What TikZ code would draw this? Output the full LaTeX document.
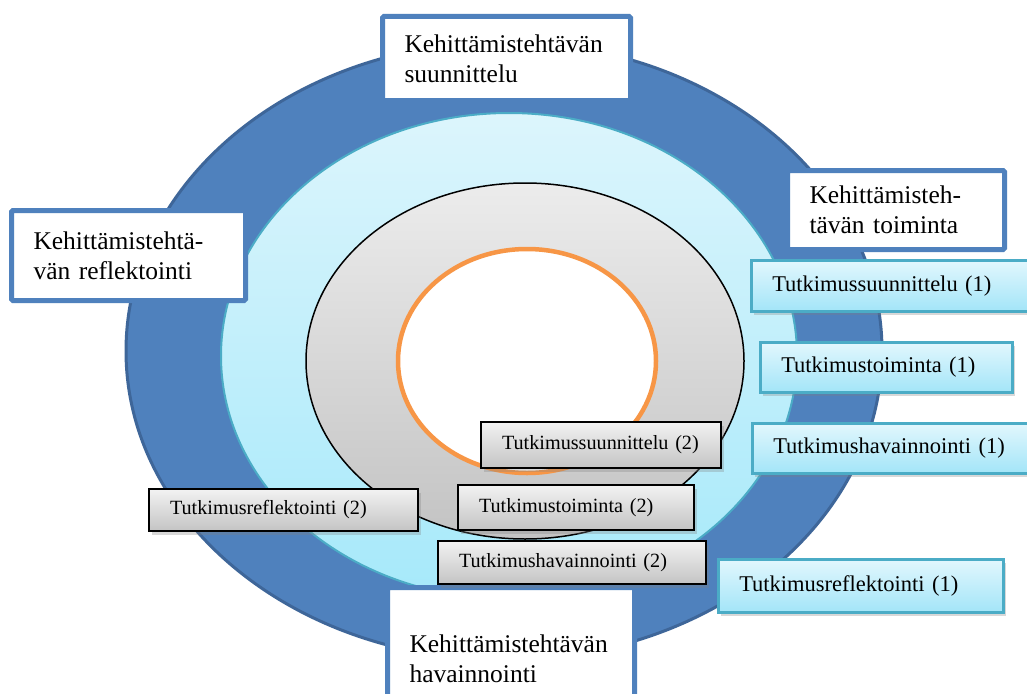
\documentclass[tikz,border=0pt]{standalone}
\usepackage{fontspec}
\setmainfont{Liberation Serif}
\usetikzlibrary{shadows}
\definecolor{ringblue}{HTML}{4F81BD}
\definecolor{ringblueedge}{HTML}{3E6699}
\definecolor{cyantop}{HTML}{DCF5FC}
\definecolor{cyanbot}{HTML}{A6E9FA}
\definecolor{cyanedge}{HTML}{4BACC6}
\definecolor{graytop}{HTML}{ECECEC}
\definecolor{graybot}{HTML}{C3C3C3}
\definecolor{orangeedge}{HTML}{F79646}
\definecolor{boxcyantop}{HTML}{E2F7FD}
\definecolor{boxcyanbot}{HTML}{A3E5F8}
\definecolor{boxgraytop}{HTML}{F2F2F2}
\definecolor{boxgraybot}{HTML}{C4C4C4}
\tikzset{
  bigbox/.style={draw=ringblue, line width=5pt, fill=white, rounded corners=1.5pt,
    align=left, inner xsep=22pt, inner ysep=0pt, anchor=north west,
    font=\fontsize{25.5}{30}\selectfont},
  cyanbox/.style={draw=cyanedge, line width=2.5pt, top color=boxcyantop, bottom color=boxcyanbot,
    drop shadow={shadow xshift=3pt, shadow yshift=-4pt, opacity=0.3},
    align=left, inner xsep=21pt, inner ysep=0pt, anchor=north west,
    font=\fontsize{22.5}{26}\selectfont},
  graybox/.style={draw=black, line width=2pt, top color=boxgraytop, bottom color=boxgraybot,
    drop shadow={shadow xshift=3pt, shadow yshift=-4pt, opacity=0.3},
    align=left, inner xsep=21pt, inner ysep=0pt, anchor=north west,
    font=\fontsize{20.2}{24}\selectfont}
}
\begin{document}
\begin{tikzpicture}[x=1pt,y=-1pt]
\useasboundingbox (0,0) rectangle (1027,693);
\fill[white] (0,0) rectangle (1027,693);
% rings
\draw[draw=ringblueedge, fill=ringblue, line width=3pt] (504,351) ellipse [x radius=378pt, y radius=309pt];
\draw[draw=cyanedge, line width=2pt, top color=cyantop, bottom color=cyanbot] (509,356) ellipse [x radius=288pt, y radius=243pt];
\draw[draw=black, line width=1.5pt, top color=graytop, bottom color=graybot] (525,361) ellipse [x radius=219pt, y radius=178pt];
\draw[draw=orangeedge, line width=4.5pt, fill=white] (527,361) ellipse [x radius=129pt, y radius=112pt];
% white labels
\node[bigbox, minimum width=248pt, text width=204pt, minimum height=84pt] (plan) at (380,14) {Kehittämistehtävän\\suunnittelu};
\node[bigbox, minimum width=217pt, text width=173pt, minimum height=79pt] (act) at (785,168) {Kehittämisteh-\\tävän toiminta};
\node[bigbox, minimum width=234pt, text width=190pt, minimum height=90pt] (refl) at (9,208) {Kehittämistehtä-\\vän reflektointi};
\node[bigbox, minimum width=247pt, text width=203pt, minimum height=142pt] (obs) at (385,585) {Kehittämistehtävän\\havainnointi};
% cyan boxes
\node[cyanbox, minimum width=290pt, text width=248pt, minimum height=51pt] (c1) at (750,259) {Tutkimussuunnittelu (1)};
\node[cyanbox, minimum width=252pt, text width=210pt, minimum height=50pt] (c2) at (759,341) {Tutkimustoiminta (1)};
\node[cyanbox, minimum width=290pt, text width=248pt, minimum height=50pt] (c3) at (751,422) {Tutkimushavainnointi (1)};
\node[cyanbox, minimum width=285pt, text width=243pt, minimum height=53pt] (c4) at (717,558) {Tutkimusreflektointi (1)};
% gray boxes
\node[graybox, minimum width=240pt, text width=198pt, minimum height=46pt] (g1) at (480,421) {Tutkimussuunnittelu (2)};
\node[graybox, minimum width=236pt, text width=194pt, minimum height=45pt] (g2) at (457,484) {Tutkimustoiminta (2)};
\node[graybox, minimum width=268pt, text width=226pt, minimum height=43pt] (g3) at (437,540) {Tutkimushavainnointi (2)};
\node[graybox, minimum width=269pt, text width=227pt, minimum height=42pt] (g4) at (148,488) {Tutkimusreflektointi (2)};
\end{tikzpicture}
\end{document}
